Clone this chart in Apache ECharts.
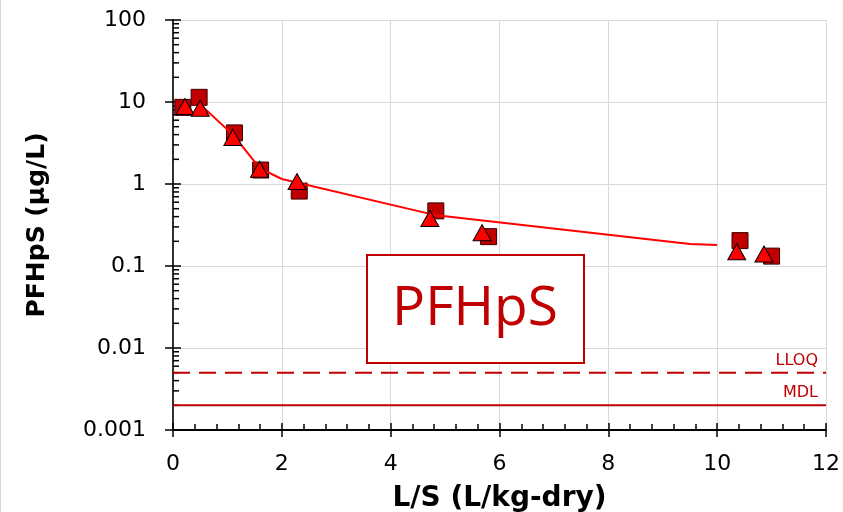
<!DOCTYPE html>
<html>
<head>
<meta charset="utf-8">
<script src="https://cdn.jsdelivr.net/npm/echarts@6/dist/echarts.min.js"></script>
<style>
html,body{margin:0;padding:0;background:#fff;}
#chart{width:843px;height:512px;box-sizing:border-box;border-left:1px solid #d9d9d9;}
</style>
</head>
<body>
<div id="chart"></div>
<script>
// Measured data (squares)
const squareX = [0.18, 0.48, 1.13, 1.61, 2.32, 4.83, 5.80, 10.42, 11.0];
const squareY = [8.6, 11.4, 4.2, 1.48, 0.82, 0.47, 0.228, 0.204, 0.132];
// Measured data (triangles)
const triX = [0.22, 0.50, 1.10, 1.59, 2.28, 4.72, 5.68, 10.36, 10.86];
const triY = [8.8, 8.4, 3.7, 1.51, 1.07, 0.38, 0.255, 0.149, 0.14];
// Model line
const lineX = [0.5, 1.1, 1.6, 2.0, 4.8, 9.5, 10.0];
const lineY = [9.3, 4.0, 1.55, 1.15, 0.42, 0.185, 0.18];
// Reference limits
const limitNames = ['LLOQ', 'MDL'];
const limitValues = [0.005, 0.002];
// Log-axis minor tick values
const yMinorTicks = [
  0.002,0.003,0.004,0.005,0.006,0.007,0.008,0.009,
  0.02,0.03,0.04,0.05,0.06,0.07,0.08,0.09,
  0.2,0.3,0.4,0.5,0.6,0.7,0.8,0.9,
  2,3,4,5,6,7,8,9,
  20,30,40,50,60,70,80,90
];
const xLabels = ['0','2','4','6','8','10','12'];
const yLabels = ['0.001','0.01','0.1','1','10','100'];

const dark = '#C00000';
const font = 'DejaVu Sans, Verdana, sans-serif';

const zip = (a, b) => a.map((v, i) => [v, b[i]]);

const chart = echarts.init(document.getElementById('chart'), null, {renderer: 'canvas'});
chart.setOption({
  animation: false,
  backgroundColor: '#fff',
  grid: {left: 172, right: 17, top: 20, bottom: 82, containLabel: false, outerBoundsMode: 'none'},
  xAxis: [{
    type: 'value', min: 0, max: 12, interval: 2, position: 'bottom',
    name: 'L/S (L/kg-dry)', nameLocation: 'middle', nameGap: 55,
    nameTextStyle: {fontFamily: font, fontWeight: 'bold', fontSize: 28, color: '#000'},
    axisLine: {show: true, onZero: false, lineStyle: {color: '#000', width: 2}},
    axisTick: {show: true, inside: false, length: 7, lineStyle: {color: '#000', width: 1.5}},
    axisLabel: {margin: 23, fontFamily: font, fontSize: 22, color: '#000',
      formatter: v => xLabels[Math.round(v / 2)]},
    splitLine: {show: true, lineStyle: {color: '#d9d9d9', width: 1}}
  }, {
    type: 'value', min: 0, max: 12, interval: 2, position: 'bottom',
    axisLine: {show: false},
    axisTick: {show: true, inside: true, length: 7, lineStyle: {color: '#000', width: 1.5}},
    minorTick: {show: true, splitNumber: 5, length: 6, lineStyle: {color: '#000', width: 1.5}},
    axisLabel: {show: false},
    splitLine: {show: false}
  }],
  yAxis: [{
    type: 'log', logBase: 10, min: 0.001, max: 100, splitNumber: 5, position: 'left',
    name: 'PFHpS (µg/L)', nameLocation: 'middle', nameGap: 123, nameRotate: 90,
    nameTextStyle: {fontFamily: font, fontWeight: 'bold', fontSize: 25, color: '#000'},
    axisLine: {show: true, onZero: false, lineStyle: {color: '#000', width: 2}},
    axisTick: {show: true, inside: false, length: 8, lineStyle: {color: '#000', width: 1.5}},
    axisLabel: {margin: 27, fontFamily: font, fontSize: 22, color: '#000',
      formatter: v => {
        const e = Math.round(Math.log10(v));
        return yLabels[e + 3];
      }},
    splitLine: {show: true, lineStyle: {color: '#d9d9d9', width: 1}}
  }, {
    type: 'log', logBase: 10, min: 0.001, max: 100, splitNumber: 5, position: 'left',
    axisLine: {show: false},
    axisTick: {show: true, inside: true, length: 8, lineStyle: {color: '#000', width: 1.5}},
    axisLabel: {show: false},
    splitLine: {show: false}
  }, {
    type: 'log', logBase: 10, min: 0.001, max: 100, splitNumber: 5, position: 'right',
    axisLine: {show: true, lineStyle: {color: '#404040', width: 1.5}},
    axisTick: {show: false}, axisLabel: {show: false}, splitLine: {show: false}
  }],
  graphic: [{
    type: 'rect', left: 365, top: 254, z: 50,
    shape: {width: 217, height: 108},
    style: {fill: '#fff', stroke: dark, lineWidth: 2}
  }, {
    type: 'text', x: 474, y: 309, z: 51,
    style: {text: 'PFHpS', fill: dark, font: '55px "Open Sans", sans-serif',
      align: 'center', verticalAlign: 'middle'}
  }],
  series: [{
    type: 'custom', name: 'minorTicks', xAxisIndex: 0, yAxisIndex: 0, silent: true, z: 10,
    data: yMinorTicks.map(v => [0, v]),
    renderItem: (params, api) => {
      const p = api.coord([0, api.value(1)]);
      return {type: 'line', shape: {x1: p[0], y1: p[1], x2: p[0] + 6, y2: p[1]},
        style: {stroke: '#000', lineWidth: 1.5}};
    }
  }, {
    type: 'custom', name: 'limits', xAxisIndex: 0, yAxisIndex: 0, silent: true, z: 12,
    data: limitValues.map((v, i) => [12, v, i]),
    renderItem: (params, api) => {
      const i = api.value(2);
      const pEnd = api.coord([12, api.value(1)]);
      const pStart = api.coord([0, api.value(1)]);
      return {type: 'group', children: [{
        type: 'line',
        shape: {x1: pStart[0], y1: pStart[1], x2: pEnd[0], y2: pEnd[1]},
        style: {stroke: dark, lineWidth: 2, lineDash: i === 0 ? [17, 9] : null}
      }, {
        type: 'text', x: pEnd[0] - 8, y: pEnd[1] - 4,
        style: {text: limitNames[i], fill: dark, font: '16px ' + font,
          align: 'right', verticalAlign: 'bottom'}
      }]};
    }
  }, {
    type: 'scatter', name: 'squares', xAxisIndex: 0, yAxisIndex: 0, z: 20,
    symbol: 'rect', symbolSize: 16,
    itemStyle: {color: dark, borderColor: '#3a0000', borderWidth: 1, opacity: 1},
    data: zip(squareX, squareY)
  }, {
    type: 'line', name: 'model', xAxisIndex: 0, yAxisIndex: 0, z: 21,
    showSymbol: false, symbol: 'none',
    lineStyle: {color: '#FF0000', width: 2},
    data: zip(lineX, lineY)
  }, {
    type: 'scatter', name: 'triangles', xAxisIndex: 0, yAxisIndex: 0, z: 22,
    symbol: 'triangle', symbolSize: [18, 16],
    itemStyle: {color: '#FF0000', borderColor: '#000', borderWidth: 1, opacity: 1},
    data: zip(triX, triY)
  }]
});
</script>
</body>
</html>
